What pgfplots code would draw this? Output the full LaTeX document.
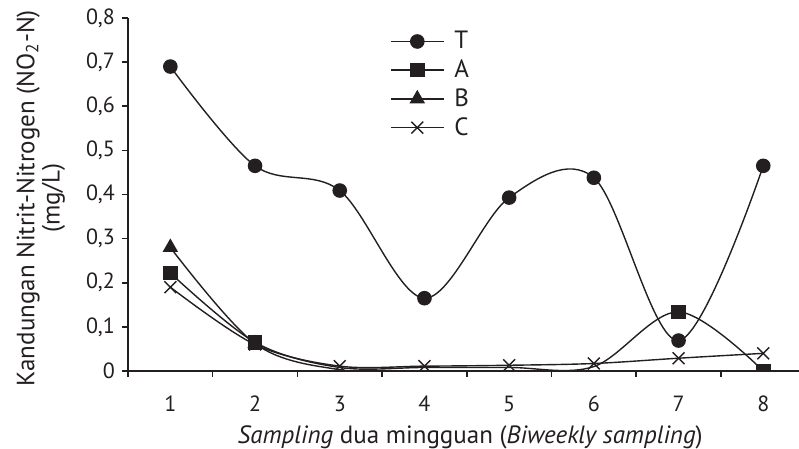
\documentclass[border=0pt]{standalone}
\usepackage{fontspec}
\setmainfont{PT Sans}
\usepackage{pgfplots}
\pgfplotsset{compat=1.18}
\definecolor{ink}{HTML}{231F20}
\begin{document}
\begin{tikzpicture}
\useasboundingbox (-64pt,-39pt) rectangle (335.5pt,185.5pt);
\begin{axis}[
  scale only axis, width=335.5pt, height=176.5pt,
  xmin=0.5, xmax=8.422, ymin=0, ymax=0.8,
  axis lines*=left,
  axis line style={ink, line width=0.8pt},
  clip marker paths=true,
  xtick={1,2,3,4,5,6,7,8},
  major x tick style={draw=none},
  minor xtick={0.5,1.5,2.5,3.5,4.5,5.5,6.5,7.5},
  ytick={0,0.1,0.2,0.3,0.4,0.5,0.6,0.7,0.8},
  tick align=outside,
  tick style={ink, line width=0.8pt},
  major tick length=3pt, minor tick length=3pt,
  tick label style={font=\fontsize{11}{13}\selectfont, text=ink},
  yticklabel style={/pgf/number format/.cd, fixed, precision=1, use comma, assume math mode=true},
  xticklabel style={/pgf/number format/assume math mode=true, yshift=-6pt},
  xlabel={\textit{Sampling} dua mingguan (\textit{Biweekly sampling})},
  xlabel style={at={(axis description cs:0.51,-0.187)}, anchor=center, font=\fontsize{12.5}{14}\selectfont, text=ink},
  ylabel={Kandungan Nitrit-Nitrogen (NO\textsubscript{2}-N)\\(mg/L)},
  ylabel style={at={(axis description cs:-0.13,0.49)}, anchor=center, align=center, font=\fontsize{12.5}{10.5}\selectfont, text=ink},
  legend cell align=left,
  legend style={at={(rel axis cs:0.39,0.975)}, anchor=north west, draw=none, fill=none,
    font=\fontsize{12.5}{14}\selectfont, text=ink, row sep=0pt, inner sep=0pt},
  legend image code/.code={\draw[#1, mark indices={2}] plot coordinates {(0pt,0pt) (13.25pt,0pt) (26.5pt,0pt)};},
  every axis plot/.append style={ink, line width=0.7pt, smooth, tension=0.55},
]
\addplot[mark=*, mark size=3.3pt, mark options={fill=ink}] coordinates {
  (1,0.690) (2,0.465) (3,0.409) (4,0.165) (5,0.393) (6,0.438) (7,0.069) (8,0.465)};
\addlegendentry{\hspace{3pt}T}
\addplot[mark=square*, mark size=3.3pt, mark options={fill=ink}, mark indices={1,2,7,8}] coordinates {
  (1,0.222) (2,0.065) (3,0.008) (4,0.008) (5,0.008) (6,0.010) (7,0.134) (8,0.000)};
\addlegendentry{\hspace{3pt}A}
\addplot[mark=triangle*, mark size=3.8pt, mark options={fill=ink}, mark indices={1,2}] coordinates {
  (1,0.280) (2,0.062) (3,0.003) (4,0.000) (5,0.000) (6,0.000) (7,0.000) (8,0.000)};
\addlegendentry{\hspace{3pt}B}
\addplot[mark=x, mark size=4.2pt] coordinates {
  (1,0.190) (2,0.060) (3,0.011) (4,0.011) (5,0.013) (6,0.017) (7,0.029) (8,0.040)};
\addlegendentry{\hspace{3pt}C}
\end{axis}
\end{tikzpicture}
\end{document}
